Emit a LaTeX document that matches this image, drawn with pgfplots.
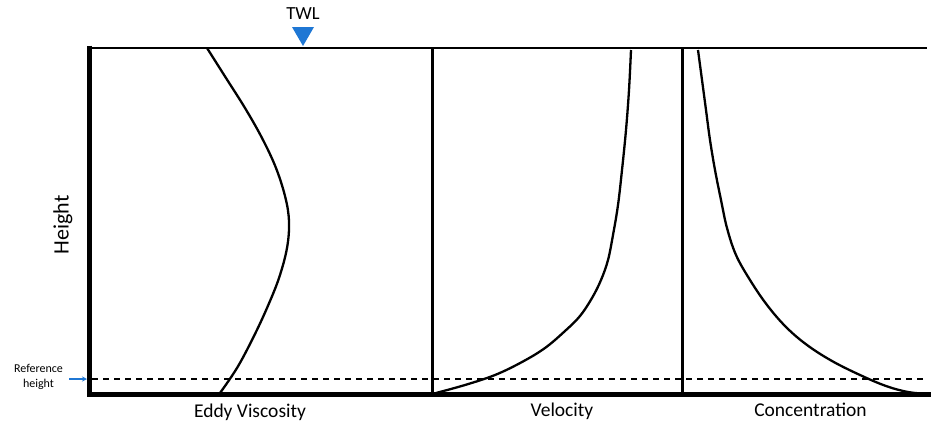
\documentclass[border=0pt]{standalone}
\usepackage{pgfplots}
\pgfplotsset{compat=1.18}
\usetikzlibrary{arrows.meta}
\usepackage{fontspec}
\setmainfont{Carlito}
\definecolor{twlblue}{RGB}{31,119,212}
\begin{document}
\begin{tikzpicture}
\begin{axis}[
  scale only axis, width=931pt, height=423pt,
  xmin=0, xmax=931, ymin=0, ymax=423, y dir=reverse,
  axis lines=none, clip=false,
]
% frame lines
\addplot[black, line width=1.5pt] coordinates {(89,48) (927,48)};
\addplot[black, line width=1.4pt, dash pattern=on 6pt off 5pt] coordinates {(92,379) (927,379)};
\addplot[black, line width=3pt] coordinates {(432,48) (432,394)};
\addplot[black, line width=3pt] coordinates {(682,48) (682,394)};
\addplot[black, line width=5pt] coordinates {(89,45.5) (89,396.5)};
\addplot[black, line width=5pt] coordinates {(89,394) (931,394)};
% eddy viscosity
\addplot[black, line width=2.3pt, smooth, tension=0.6] coordinates {
 (207,48) (226,78) (245,108) (262,138) (276,168) (285.5,198) (289,222) (287,248) (279,278) (267,308) (253,338) (237,368) (220,393)};
% velocity
\addplot[black, line width=2.3pt, smooth, tension=0.6] coordinates {
 (436,393) (465,385) (495,375) (522,362) (545,348) (565,331) (580,316) (592,298) (601,280) (608,260) (613,235) (618,205) (622,170) (626,130) (629,90) (631,50)};
% concentration
\addplot[black, line width=2.3pt, smooth, tension=0.6] coordinates {
 (698,50) (702,80) (706,110) (710,140) (715,170) (721,200) (727,228) (736,255) (750,280) (767,305) (786,327) (807,345) (832,361) (860,375) (886,386) (908,392) (928,394)};
% TWL triangle
\addplot[fill=twlblue, draw=none] coordinates {(292,27) (314,27) (303,46)} -- cycle;
\node[font=\fontsize{18.5}{22}\selectfont] at (axis cs:303,14) {TWL};
% reference arrow
\draw[twlblue, line width=1.5pt, -{Stealth[length=5pt,width=5pt]}] (axis cs:69,379) -- (axis cs:87,379);
\node[font=\fontsize{12}{15}\selectfont, align=center] at (axis cs:38.5,377) {Reference\\height};
% labels
\node[font=\fontsize{22}{26}\selectfont, rotate=90] at (axis cs:63,225) {Height};
\node[font=\fontsize{19.5}{23}\selectfont] at (axis cs:250,412) {Eddy Viscosity};
\node[font=\fontsize{19.5}{23}\selectfont] at (axis cs:562,411) {Velocity};
\node[font=\fontsize{19.5}{23}\selectfont] at (axis cs:810.5,410) {Concentration};
\coordinate (c1) at (axis cs:0,0);
\coordinate (c2) at (axis cs:931,423);
\end{axis}
\pgfresetboundingbox
\path (c1) rectangle (c2);
\end{tikzpicture}
\end{document}
